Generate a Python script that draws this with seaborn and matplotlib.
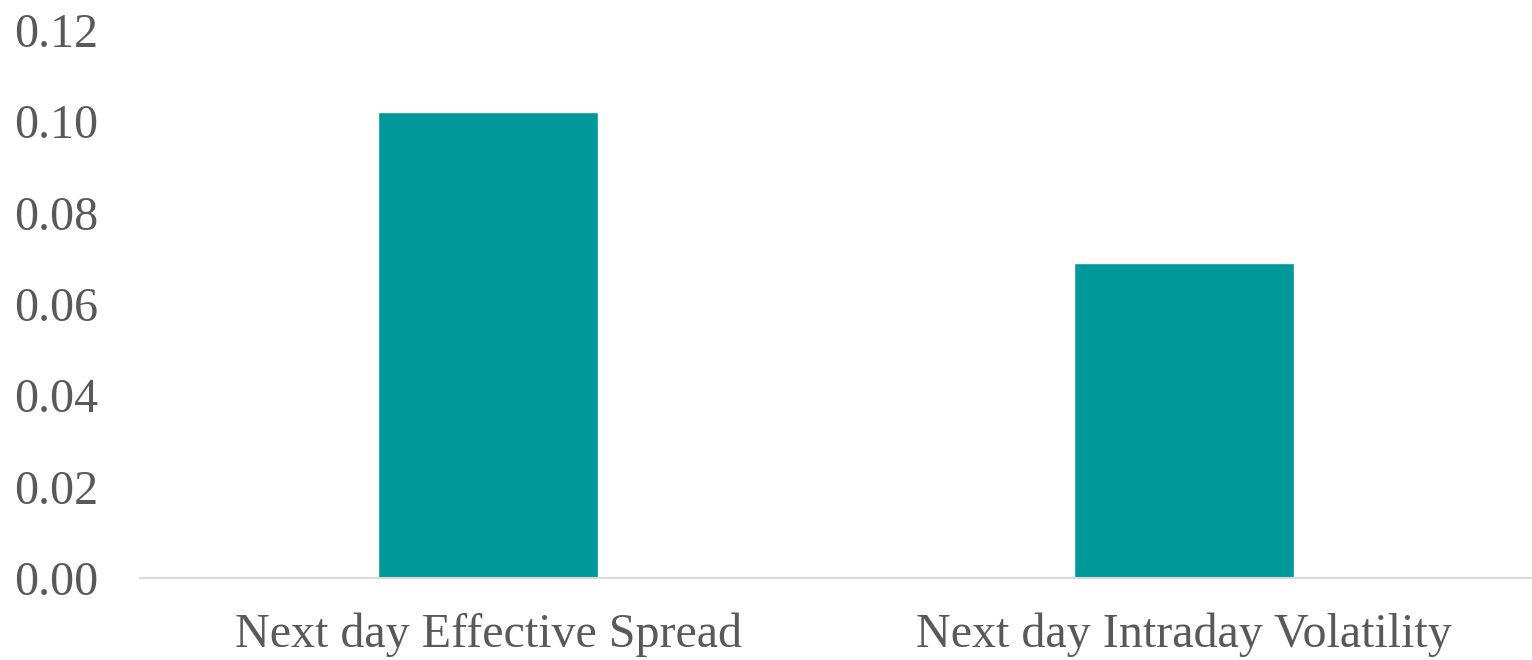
import numpy as np
import matplotlib
matplotlib.use('Agg')
import matplotlib.pyplot as plt
import seaborn as sns
import pandas as pd

# chart values
categories = ['Next day Effective Spread', 'Next day Intraday Volatility']
values = [0.102, 0.069]
yticks = [0.00, 0.02, 0.04, 0.06, 0.08, 0.10, 0.12]

df = pd.DataFrame({'category': categories, 'value': values})

sns.set_style('white')
plt.rcParams['font.family'] = ['Liberation Serif', 'DejaVu Serif']

fig = plt.figure(figsize=(15.32, 6.6), dpi=100)
ax = fig.add_axes([0.0914, 0.124, 0.9086, 0.8305])

sns.barplot(x='category', y='value', data=df, color='#009999', width=0.316,
            saturation=1, ax=ax)

ax.set_ylim(0, 0.12)
ax.set_yticks(yticks)
ax.set_yticklabels(['%.2f' % t for t in yticks])
ax.set_xlabel('')
ax.set_ylabel('')

for s in ['top', 'right', 'left']:
    ax.spines[s].set_visible(False)
ax.spines['bottom'].set_color('#d9d9d9')
ax.spines['bottom'].set_linewidth(1.5)

ax.tick_params(axis='both', length=0, labelsize=34.6, colors='#595959')
ax.tick_params(axis='y', pad=30)
ax.tick_params(axis='x', pad=25)

plt.savefig('out.png', dpi=100)
